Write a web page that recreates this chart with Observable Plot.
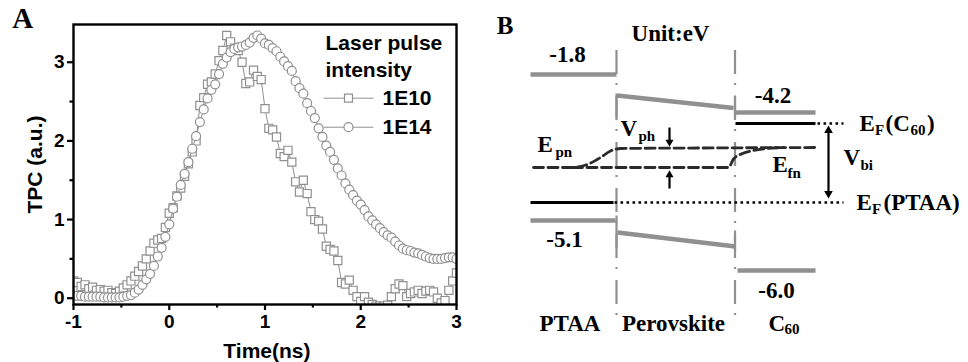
<!DOCTYPE html>
<html><head><meta charset="utf-8">
<script src="https://cdn.jsdelivr.net/npm/d3@7"></script>
<script src="https://cdn.jsdelivr.net/npm/@observablehq/plot@0.6"></script>
<style>
body{margin:0;background:#fff;}
#wrap{display:flex;width:968px;height:362px;overflow:hidden;}
#wrap svg{display:block;}
</style></head><body><div id="wrap"></div>
<script>
// ---------- Panel A data ----------
const time = [-1,-0.96,-0.92,-0.88,-0.84,-0.8,-0.76,-0.72,-0.68,-0.64,
  -0.6,-0.56,-0.52,-0.48,-0.44,-0.4,-0.36,-0.32,-0.28,-0.24,
  -0.2,-0.16,-0.12,-0.08,-0.04,0,0.04,0.08,0.12,0.16,
  0.2,0.24,0.28,0.32,0.36,0.4,0.44,0.48,0.52,0.56,
  0.6,0.64,0.68,0.72,0.76,0.8,0.84,0.88,0.92,0.96,
  1,1.04,1.08,1.12,1.16,1.2,1.24,1.28,1.32,1.36,
  1.4,1.44,1.48,1.52,1.56,1.6,1.64,1.68,1.72,1.76,
  1.8,1.84,1.88,1.92,1.96,2,2.04,2.08,2.12,2.16,
  2.2,2.24,2.28,2.32,2.36,2.4,2.44,2.48,2.52,2.56,
  2.6,2.64,2.68,2.72,2.76,2.8,2.84,2.88,2.92,2.96,3];
const tpc1E10 = [0.22,0.20,0.15,0.17,0.12,0.14,0.10,0.11,0.09,0.10,
  0.07,0.06,0.09,0.13,0.17,0.22,0.28,0.34,0.41,0.50,
  0.60,0.70,0.74,0.76,0.90,1.08,1.15,1.30,1.40,1.55,
  1.71,1.86,2.00,2.45,2.55,2.72,2.75,2.85,3.02,3.15,
  3.34,3.26,3.18,3.15,3.00,2.73,2.75,2.90,2.82,2.78,
  2.41,2.16,2.14,2.05,1.84,1.80,1.88,1.73,1.48,1.35,
  1.50,1.33,1.10,1.00,0.98,0.88,0.66,0.62,0.60,0.48,
  0.20,0.18,0.23,0.10,0.02,-0.04,0.02,-0.05,-0.08,-0.10,
  -0.10,-0.10,-0.09,0.02,0.12,0.18,0.16,0.02,0.06,0.08,
  0.10,0.06,0.09,0.10,0.08,0.00,-0.06,-0.03,0.10,0.22,0.32];
const tpc1E14 = [0.03,0.03,0.03,0.02,0.02,0.02,0.02,0.02,0.01,0.01,
  0.01,0.01,0.01,0.02,0.03,0.04,0.07,0.11,0.17,0.24,
  0.31,0.41,0.53,0.64,0.78,0.94,1.14,1.29,1.44,1.58,
  1.73,1.90,2.06,2.24,2.40,2.54,2.65,2.72,2.85,2.98,
  3.06,3.13,3.17,3.19,3.20,3.22,3.25,3.31,3.34,3.30,
  3.24,3.22,3.18,3.14,3.07,3.01,2.95,2.89,2.76,2.67,
  2.60,2.48,2.38,2.29,2.16,2.05,1.94,1.86,1.76,1.65,
  1.56,1.46,1.38,1.31,1.24,1.19,1.12,1.04,0.99,0.94,
  0.89,0.84,0.80,0.77,0.72,0.67,0.63,0.61,0.60,0.58,
  0.57,0.55,0.53,0.51,0.50,0.50,0.50,0.51,0.52,0.52,0.50];
const seriesNames = ["1E10", "1E14"];
const xTicks = [-1, 0, 1, 2, 3];
const xMinorTicks = [-0.5, 0.5, 1.5, 2.5];
const yTicks = [0, 1, 2, 3];
const yMinorTicks = [0.5, 1.5, 2.5];

// ---------- Panel B data (schematic band diagram) ----------
const layerNames = ["PTAA", "Perovskite", "C60"];
const levelLabels = ["-1.8", "-4.2", "-5.1", "-6.0"];

const rows10 = time.map((t, i) => ({t, v: tpc1E10[i]}));
const rows14 = time.map((t, i) => ({t, v: tpc1E14[i]}));

const gray = "#909090";
const sans = "'Liberation Sans', Arial, Helvetica, sans-serif";
const serif = "'Liberation Serif', 'Times New Roman', Times, serif";

const panelA = Plot.plot({
  width: 480, height: 362,
  marginLeft: 73, marginRight: 24, marginTop: 24, marginBottom: 58,
  x: {domain: [-1, 3]},
  y: {domain: [-0.08, 3.48]},
  style: {fontFamily: sans, fontWeight: "bold", background: "white", overflow: "visible"},
  marks: [
    Plot.line(rows10, {x: "t", y: "v", stroke: gray, strokeWidth: 1, clip: true}),
    Plot.dot(rows10, {x: "t", y: "v", symbol: "square", r: 4.6, stroke: gray, fill: "white", strokeWidth: 1.2, clip: true}),
    Plot.line(rows14, {x: "t", y: "v", stroke: gray, strokeWidth: 1, clip: true}),
    Plot.dot(rows14, {x: "t", y: "v", symbol: "circle", r: 4.5, stroke: gray, fill: "white", strokeWidth: 1.2, clip: true}),
    Plot.frame({stroke: "black", strokeWidth: 2.4}),
    Plot.axisX({ticks: xTicks, tickSize: 6, tickPadding: 4, strokeWidth: 2.2, fontSize: 19, fontWeight: "bold", label: null, tickFormat: d => String(d)}),
    Plot.axisX({ticks: xMinorTicks, tickSize: 3.5, strokeWidth: 2.2, text: null, label: null}),
    Plot.axisY({ticks: yTicks, tickSize: 6, tickPadding: 3, strokeWidth: 2.2, fontSize: 19, fontWeight: "bold", label: null, tickFormat: d => String(d)}),
    Plot.axisY({ticks: yMinorTicks, tickSize: 3.5, strokeWidth: 2.2, text: null, label: null}),
    // axis titles
    Plot.text(["Time(ns)"], {x: 1.02, y: -0.67, text: d => d, fontSize: 21, fontWeight: "bold"}),
    Plot.text(["TPC (a.u.)"], {x: -1.4, y: 1.7, text: d => d, rotate: -90, fontSize: 21, fontWeight: "bold"}),
    // panel letter
    Plot.text(["A"], {x: -1.53, y: 3.55, text: d => d, fontFamily: serif, fontSize: 29, fontWeight: "bold"}),
    // legend
    Plot.text(["Laser pulse", "intensity"], {x: 1.632, y: [3.24, 2.895], text: d => d, textAnchor: "start", fontSize: 21, fontWeight: "bold", letterSpacing: 1.1}),
    Plot.link(seriesNames, {x1: 1.611, x2: 2.133, y1: [2.543, 2.174], y2: [2.543, 2.174], stroke: gray, strokeWidth: 1}),
    Plot.dot(seriesNames, {x: 1.872, y: [2.543, 2.174], symbol: ["square", "circle"], r: 4.5, stroke: gray, fill: "white", strokeWidth: 1.2}),
    Plot.text(seriesNames, {x: 2.227, y: [2.543, 2.174], text: d => d, textAnchor: "start", fontSize: 21, fontWeight: "bold", letterSpacing: 0.8})
  ]
});

// ----- Panel B geometry (schematic units: x across the stack, y = depth below vacuum) -----
const interfaces = [13.6, 25.45];
const bandLines = [
  {x1: 5, y1: 7.4, x2: 13.6, y2: 7.4},       // PTAA LUMO
  {x1: 5, y1: 22.0, x2: 13.5, y2: 22.0},     // PTAA HOMO
  {x1: 13.65, y1: 9.5, x2: 25.3, y2: 10.75}, // perovskite CB
  {x1: 13.7, y1: 23.2, x2: 25.5, y2: 24.6},  // perovskite VB
  {x1: 25.5, y1: 11.2, x2: 33.5, y2: 11.2},  // C60 LUMO
  {x1: 25.7, y1: 27.0, x2: 33.5, y2: 27.0}   // C60 HOMO
];
const caps = [
  {x: 13.6, y1: 9.3, y2: 11.7},
  {x: 13.6, y1: 22.2, y2: 24.7}, {x: 13.6, y1: 21.5, y2: 22.2},
  {x: 25.45, y1: 9.5, y2: 11.8}, {x: 25.45, y1: 23.0, y2: 25.0}
];
const fermiSolid = [
  {x1: 5, x2: 13.3, y: 20.2},
  {x1: 25.5, x2: 33.5, y: 12.3}
];
const fermiDotted = [
  {x1: 13.4, x2: 36.3, y: 20.2},
  {x1: 33.7, x2: 36.3, y: 12.3}
];
const quasiUpper = [[5.3,16.7],[9.2,16.7],[10.8,16.35],[12.0,15.7],[13.0,15.05],[14.0,14.8],[22.0,14.75],[33.5,14.7]];
const quasiLower = [[9.2,16.7],[24.8,16.7],[25.3,15.85],[26.2,15.3],[27.3,15.0],[28.7,14.8],[30.3,14.7]];

const centeredLabels = [
  {t: "Unit:eV", x: 19.0, y: 3.3},
  {t: levelLabels[0], x: 8.7, y: 5.4},
  {t: levelLabels[1], x: 29.25, y: 9.55},
  {t: levelLabels[2], x: 8.4, y: 23.9},
  {t: levelLabels[3], x: 29.6, y: 29.05},
  {t: layerNames[0], x: 8.95, y: 32.3},
  {t: layerNames[1], x: 19.3, y: 32.3}
];
const startLabels = [
  {t: "C", x: 28.8, y: 32.3},
  {t: "E", x: 37.9, y: 12.3},
  {t: "(C", x: 40.5, y: 12.3},
  {t: ")", x: 44.65, y: 12.3},
  {t: "E", x: 37.6, y: 20.2},
  {t: "(PTAA)", x: 40.3, y: 20.2},
  {t: "V", x: 36.3, y: 15.7},
  {t: "E", x: 5.7, y: 14.45},
  {t: "V", x: 14.0, y: 12.8},
  {t: "E", x: 29.2, y: 16.45}
];
const subLabels = [
  {t: "60", x: 30.4, y: 32.9},
  {t: "F", x: 39.45, y: 12.95},
  {t: "60", x: 43.0, y: 12.95},
  {t: "F", x: 39.15, y: 20.85},
  {t: "bi", x: 38.0, y: 16.5},
  {t: "pn", x: 7.5, y: 15.2},
  {t: "ph", x: 15.8, y: 13.6},
  {t: "fn", x: 30.7, y: 17.25}
];
const arrowShafts = [
  {x: 34.8, y1: 12.9, y2: 19.4},
  {x: 18.9, y1: 12.7, y2: 14.3},
  {x: 18.9, y1: 17.3, y2: 18.8}
];
const arrowHeads = [
  {x: 34.8, y: 13.0, r: 4.5, rot: 0},
  {x: 34.8, y: 19.3, r: 4.5, rot: 180},
  {x: 18.9, y: 14.15, r: 3.9, rot: 180},
  {x: 18.9, y: 17.45, r: 3.9, rot: 0}
];

const panelB = Plot.plot({
  width: 488, height: 362,
  margin: 0,
  x: {domain: [0, 48.8], range: [0, 488], axis: null},
  y: {domain: [0, 36.2], range: [0, 362], axis: null},
  style: {fontFamily: serif, fontWeight: "bold", background: "white", overflow: "visible"},
  marks: [
    Plot.ruleX(interfaces, {x: d => d, y1: 5.0, y2: 31.9, stroke: gray, strokeWidth: 2.2, strokeDasharray: "24,9,2,11"}),
    Plot.link(bandLines, {x1: "x1", y1: "y1", x2: "x2", y2: "y2", stroke: gray, strokeWidth: 4.5}),
    Plot.link(caps, {x1: "x", x2: "x", y1: "y1", y2: "y2", stroke: gray, strokeWidth: 2.2}),
    Plot.link(fermiSolid, {x1: "x1", x2: "x2", y1: "y", y2: "y", stroke: "black", strokeWidth: 3}),
    Plot.link(fermiDotted, {x1: "x1", x2: "x2", y1: "y", y2: "y", stroke: "black", strokeWidth: 2.6, strokeDasharray: "2.6,3.4"}),
    Plot.line(quasiUpper, {x: d => d[0], y: d => d[1], curve: "monotone-x", stroke: "#2a2a2a", strokeWidth: 2.8, strokeDasharray: "10,4.5"}),
    Plot.line(quasiLower, {x: d => d[0], y: d => d[1], curve: "monotone-x", stroke: "#2a2a2a", strokeWidth: 2.8, strokeDasharray: "10,4.5"}),
    Plot.link(arrowShafts, {x1: "x", x2: "x", y1: "y1", y2: "y2", stroke: "black", strokeWidth: 2.2}),
    Plot.dot(arrowHeads, {x: "x", y: "y", r: "r", rotate: "rot", symbol: "triangle", fill: "black", stroke: "none"}),
    Plot.text(centeredLabels, {x: "x", y: "y", text: "t", textAnchor: "middle", fontSize: 23, fontWeight: "bold", fill: "black"}),
    Plot.text(startLabels, {x: "x", y: "y", text: "t", textAnchor: "start", fontSize: 23, fontWeight: "bold", fill: "black"}),
    Plot.text(subLabels, {x: "x", y: "y", text: "t", textAnchor: "start", fontSize: 15, fontWeight: "bold", fill: "black"}),
    Plot.text(["B"], {x: 2.45, y: 2.55, text: d => d, fontSize: 25, fontWeight: "bold"})
  ]
});

document.getElementById("wrap").append(panelA, panelB);
</script></body></html>
